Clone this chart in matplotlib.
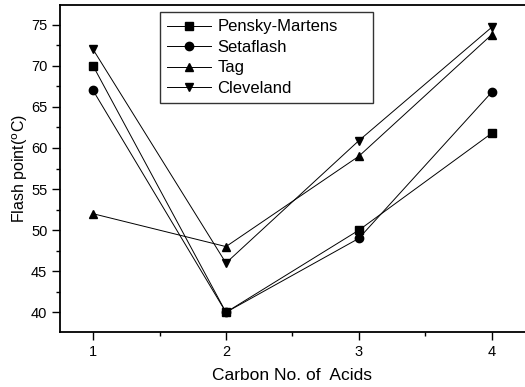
import matplotlib
matplotlib.use("Agg")
import matplotlib.pyplot as plt
from matplotlib.ticker import MultipleLocator

plt.rcParams['font.family'] = ['Liberation Sans', 'DejaVu Sans']

carbon_no = [1, 2, 3, 4]
pensky_martens = [70, 40, 50, 61.8]
setaflash = [67, 40, 49, 66.8]
tag = [52, 48, 59, 73.8]
cleveland = [72, 46, 60.9, 74.7]

series = [
    ("Pensky-Martens", pensky_martens, "s"),
    ("Setaflash", setaflash, "o"),
    ("Tag", tag, "^"),
    ("Cleveland", cleveland, "v"),
]

fig = plt.figure(figsize=(5.25, 3.87), dpi=100)
ax = fig.add_axes([0.114, 0.142, 0.886 * 1.0, 0.845])

for name, vals, mk in series:
    ax.plot(carbon_no, vals, color="black", lw=0.7, marker=mk, markersize=6,
            label=name)

ax.set_xlim(0.75, 4.25)
ax.set_ylim(37.6, 77.4)
ax.xaxis.set_major_locator(MultipleLocator(1))
ax.xaxis.set_minor_locator(MultipleLocator(0.5))
ax.yaxis.set_major_locator(MultipleLocator(5))
ax.yaxis.set_minor_locator(MultipleLocator(2.5))
ax.tick_params(which="both", direction="out", labelsize=10.5, width=1)
ax.tick_params(which="major", length=6, pad=3)
ax.tick_params(which="minor", length=3)
ax.spines["right"].set_visible(False)
for s in ["left", "bottom", "top"]:
    ax.spines[s].set_linewidth(1.3)

ax.set_xlabel("Carbon No. of  Acids", fontsize=12.5, labelpad=7)
ax.set_ylabel("Flash point($^{\\rm o}$C)", fontsize=11.5, labelpad=1)

leg = ax.legend(loc="upper left", bbox_to_anchor=(0.215, 0.979, 0.458, 0.0),
                mode="expand", fontsize=12,
                frameon=True, fancybox=False, edgecolor="black",
                handlelength=2.6, borderpad=0.45, labelspacing=0.33,
                handletextpad=0.4, borderaxespad=0)
leg.get_frame().set_linewidth(1)

fig.savefig("out.png", dpi=100)
